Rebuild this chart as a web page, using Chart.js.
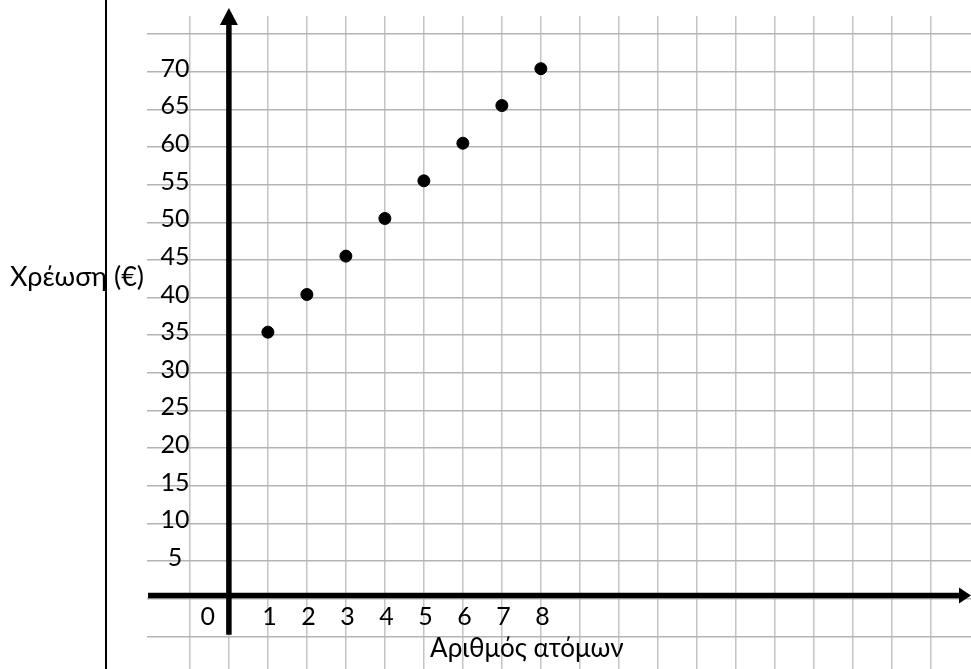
<!DOCTYPE html>
<html>
<head>
<meta charset="utf-8">
<script src="https://cdn.jsdelivr.net/npm/chart.js@4.4.1/dist/chart.umd.min.js"></script>
<style>
  html, body { margin: 0; padding: 0; background: #fff; }
  #wrap { width: 971px; height: 669px; }
</style>
</head>
<body>
<div id="wrap"><canvas id="chartCanvas"></canvas></div>
<script>
// Datos
const persons = [1, 2, 3, 4, 5, 6, 7, 8];
const charges = [35.4, 40.4, 45.5, 50.5, 55.5, 60.5, 65.5, 70.4];
const xTickLabels = ['0', '1', '2', '3', '4', '5', '6', '7', '8'];
const yTickLabels = ['5', '10', '15', '20', '25', '30', '35', '40', '45', '50', '55', '60', '65', '70'];
const xTitle = 'Αριθμός ατόμων';
const yTitle = 'Χρέωση (€)';

const FONT = '25px Lato, "Noto Sans", sans-serif';
const TITLE_FONT = '26px Lato, "Noto Sans", sans-serif';

// Ejes con flechas, etiquetas y marco
const axesPlugin = {
    id: 'axesPlugin',
    afterDraw(chart) {
        const c = chart.ctx;
        const xs = chart.scales.x;
        const ys = chart.scales.y;
        const x0 = xs.getPixelForValue(0);
        const y0 = ys.getPixelForValue(0) - 3;
        c.save();

        // eje y
        c.strokeStyle = '#000';
        c.fillStyle = '#000';
        c.lineWidth = 5.5;
        c.beginPath();
        c.moveTo(x0, ys.getPixelForValue(-4.8));
        c.lineTo(x0, 22);
        c.stroke();
        c.beginPath();
        c.moveTo(x0, 8);
        c.lineTo(x0 - 9, 25);
        c.lineTo(x0 + 9, 25);
        c.closePath();
        c.fill();

        // eje x
        c.beginPath();
        c.moveTo(chart.chartArea.left + 1, y0);
        c.lineTo(chart.width - 8, y0);
        c.stroke();
        c.beginPath();
        c.moveTo(chart.width, y0);
        c.lineTo(chart.width - 12, y0 - 8);
        c.lineTo(chart.width - 12, y0 + 8);
        c.closePath();
        c.fill();

        // etiquetas
        c.font = FONT;
        c.textAlign = 'center';
        c.textBaseline = 'middle';
        yTickLabels.forEach(t => {
            c.fillText(t, xs.getPixelForValue(-1.38), ys.getPixelForValue(Number(t)) - 3);
        });
        xTickLabels.forEach(t => {
            const v = Number(t);
            const pos = v === 0 ? -0.54 : v + 0.04;
            c.fillText(t, xs.getPixelForValue(pos), ys.getPixelForValue(-2.45));
        });

        // títulos
        c.font = TITLE_FONT;
        c.fillText(xTitle, xs.getPixelForValue(7.64), ys.getPixelForValue(-6.6));
        c.font = '27px Lato, "Noto Sans", sans-serif';
        c.textAlign = 'left';
        c.textBaseline = 'alphabetic';
        c.fillText(yTitle, 10, 286);

        // marco izquierdo
        c.lineWidth = 2;
        c.beginPath();
        c.moveTo(106, 0);
        c.lineTo(106, chart.height);
        c.stroke();
        c.restore();
    }
};

const ctx = document.getElementById('chartCanvas').getContext('2d');
const scatterChart = new Chart(ctx, {
    type: 'scatter',
    data: {
        datasets: [{
            label: yTitle,
            data: persons.map((p, i) => ({ x: p, y: charges[i] })),
            backgroundColor: '#000',
            borderColor: '#000',
            pointRadius: 6,
            pointHoverRadius: 6
        }]
    },
    options: {
        responsive: true,
        maintainAspectRatio: false,
        animation: false,
        layout: { autoPadding: false, padding: { left: 147, top: 16, right: 0, bottom: 0 } },
        plugins: { legend: { display: false }, tooltip: { enabled: false } },
        scales: {
            x: {
                type: 'linear',
                min: -2.1,
                max: 19.03,
                afterBuildTicks: axis => { axis.ticks = axis.ticks.filter(t => Number.isInteger(t.value)); },
                ticks: { display: false, stepSize: 1 },
                grid: { color: '#c4c4c4', lineWidth: 1.5, drawTicks: false },
                border: { display: false }
            },
            y: {
                type: 'linear',
                min: -9.35,
                max: 77.4,
                afterBuildTicks: axis => { axis.ticks = axis.ticks.filter(t => Math.abs(t.value % 5) < 1e-9); },
                ticks: { display: false, stepSize: 5 },
                grid: { color: '#b4b4b4', lineWidth: 1.5, drawTicks: false },
                border: { display: false }
            }
        }
    },
    plugins: [axesPlugin]
});
</script>
</body>
</html>
